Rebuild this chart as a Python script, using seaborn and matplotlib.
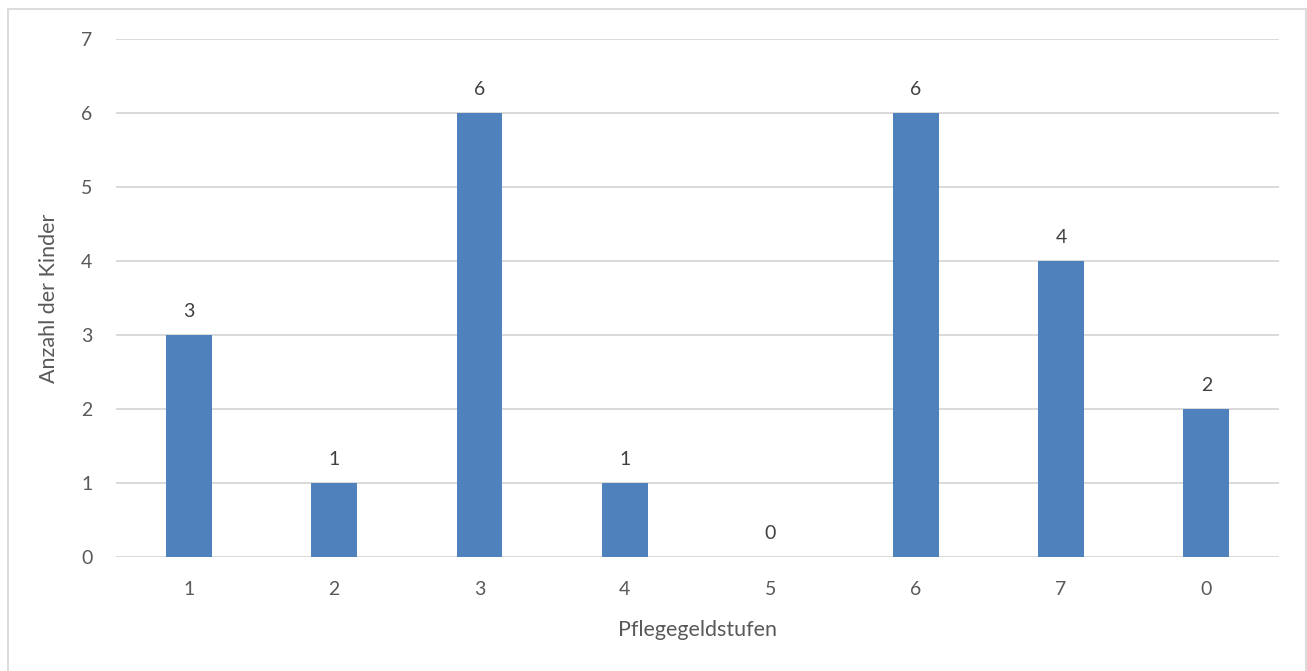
import matplotlib
matplotlib.use("Agg")
import matplotlib.pyplot as plt
from matplotlib.patches import Rectangle
import seaborn as sns
import pandas as pd

# Pflegegeldstufen and number of children per level
stufen = ["1", "2", "3", "4", "5", "6", "7", "0"]
anzahl = [3, 1, 6, 1, 0, 6, 4, 2]

sns.set_theme(style="white")
plt.rcParams["font.family"] = ["Lato", "DejaVu Sans"]

text_col = "#595959"
grid_col = "#D9D9D9"
bar_col = "#4F81BD"

df = pd.DataFrame({"Stufe": stufen, "Anzahl": anzahl})

fig = plt.figure(figsize=(13.07, 6.71), dpi=100)
ax = fig.add_axes([0.0888, 0.1699, 0.8898, 0.7720])

sns.barplot(data=df, x="Stufe", y="Anzahl", order=stufen, color=bar_col,
            width=0.316, saturation=1, linewidth=0, ax=ax, zorder=3)

ax.set_ylim(0, 7)
ax.set_yticks(range(0, 8))
ax.yaxis.grid(True, color=grid_col, linewidth=1.4, zorder=0)
ax.set_axisbelow(True)
for s in ax.spines.values():
    s.set_visible(False)
ax.tick_params(axis="both", length=0, labelsize=14, colors=text_col)
ax.tick_params(axis="y", pad=17)
ax.tick_params(axis="x", pad=17)

for p, v in zip(ax.patches, anzahl):
    ax.text(p.get_x() + p.get_width() / 2, v + 0.2, str(v),
            ha="center", va="bottom", fontsize=14, color="#404040")

ax.set_xlabel("Pflegegeldstufen", fontsize=15.5, color=text_col, labelpad=16)
ax.set_ylabel("Anzahl der Kinder", fontsize=15.5, color=text_col, labelpad=16)

# light frame around the chart area
fig.patches.append(Rectangle((8 / 1307, -0.01), 1298 / 1307, 1 - 9 / 671 + 0.01,
                             transform=fig.transFigure, fill=False,
                             edgecolor=grid_col, linewidth=1.3))

fig.savefig("out.png", dpi=100)
